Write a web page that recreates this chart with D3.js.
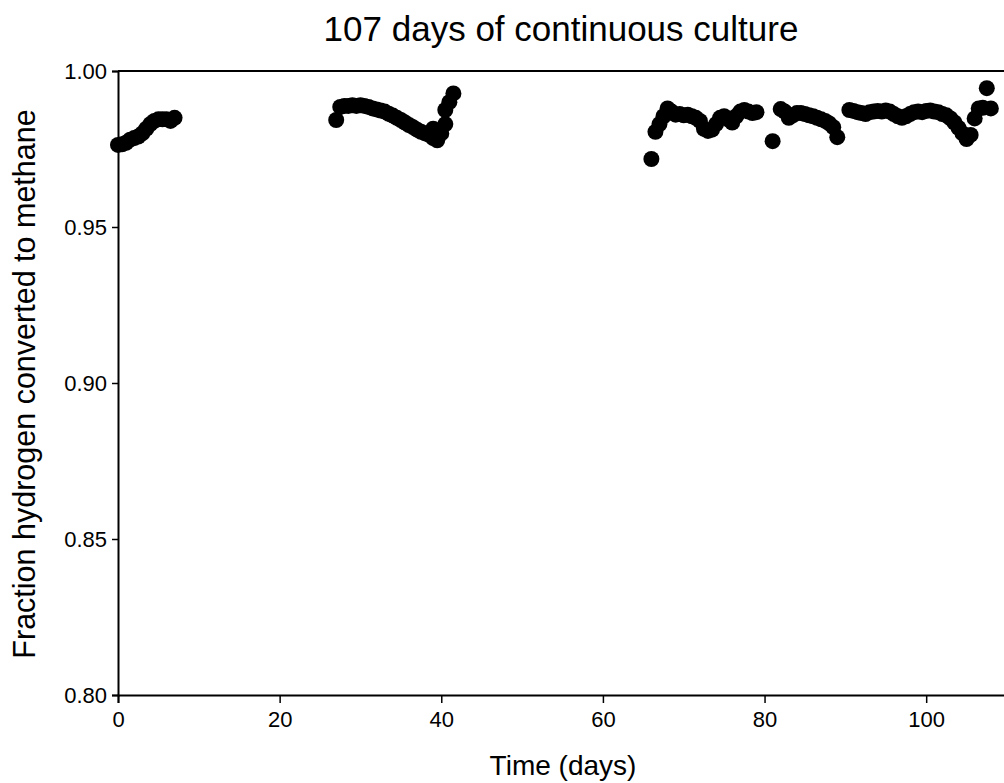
<!DOCTYPE html>
<html><head><meta charset="utf-8">
<script src="https://cdn.jsdelivr.net/npm/d3@7"></script>
<style>body{margin:0;background:#fff}text{font-family:"Liberation Sans",Arial,sans-serif;fill:#000}</style>
</head><body>
<svg id="c" width="1004" height="783"></svg>
<script>
const title = "107 days of continuous culture";
const xLabel = "Time (days)";
const yLabel = "Fraction hydrogen converted to methane";
const xTicks = [0, 20, 40, 60, 80, 100];
const yTicks = [0.80, 0.85, 0.90, 0.95, 1.00];

const days1 = [0,0.5,1,1.5,2,2.5,3,3.5,4,4.5,5,5.5,6,6.5,7];
const vals1 = [0.9763,0.9765,0.977,0.978,0.9785,0.979,0.980,0.9815,0.983,0.984,0.9845,0.9845,0.9845,0.984,0.985];

const days2 = [27,27.5,28,28.5,29,29.5,30,30.5,31,31.5,32,32.5,33,33.5,34,34.5,35,35.5,36,36.5,37,37.5,38,38.5,39,39,39.5,40,40.5,40.5,41,41.5];
const vals2 = [0.9843,0.9885,0.9888,0.9888,0.989,0.9888,0.989,0.9888,0.9885,0.988,0.9877,0.9873,0.987,0.9863,0.9857,0.985,0.9843,0.9835,0.9827,0.982,0.9812,0.9805,0.980,0.9795,0.9785,0.9815,0.9778,0.980,0.983,0.9875,0.990,0.9928];

const days3 = [66,66.5,67,67.5,68,68.5,69,69.5,70,70.5,71,71.5,72,72.5,73,73.5,74,74.5,75,75.5,76,76.5,77,77.5,78,78.5,79,81,82,82.5,83,83.5,84,84.5,85,85.5,86,86.5,87,87.5,88,88.5,89,90.5,91,91.5,92,92.5,93,93.5,94,94.5,95,95.5,96,96.5,97,97.5,98,98.5,99,99.5,100,100.5,101,101.5,102,102.5,103,103.5,104,104.5,105,105.5,106,106.5,107,107.5,108];
const vals3 = [0.9718,0.9805,0.983,0.9855,0.988,0.987,0.986,0.9862,0.9858,0.986,0.9855,0.985,0.984,0.9815,0.9808,0.9812,0.983,0.985,0.9855,0.9845,0.9835,0.9855,0.987,0.9875,0.987,0.9865,0.9868,0.9775,0.9878,0.987,0.985,0.9858,0.9865,0.9865,0.9862,0.9858,0.9855,0.985,0.9845,0.984,0.9832,0.982,0.9788,0.9875,0.9872,0.9868,0.9865,0.9862,0.9868,0.987,0.9872,0.987,0.9873,0.987,0.9862,0.9855,0.985,0.9855,0.9862,0.9868,0.987,0.9868,0.9872,0.9873,0.987,0.9868,0.9862,0.9858,0.9848,0.9835,0.9818,0.98,0.9782,0.9795,0.9848,0.988,0.9882,0.9945,0.988];

const L = 118, R = 1007, T = 71, B = 695;
const x = d3.scaleLinear().domain([0, 110]).range([L, R]);
const y = d3.scaleLinear().domain([0.80, 1.00]).range([B, T]);
const svg = d3.select("#c");

svg.append("line").attr("x1", L).attr("x2", R).attr("y1", T).attr("y2", T).attr("stroke", "#000").attr("stroke-width", 2);

const ya = svg.append("g").attr("transform", `translate(${L},0)`)
  .call(d3.axisLeft(y).tickValues(yTicks).tickFormat(d3.format(".2f")).tickSizeOuter(0).tickSize(6).tickPadding(5));
const xa = svg.append("g").attr("transform", `translate(0,${B})`)
  .call(d3.axisBottom(x).tickValues(xTicks).tickSizeOuter(0).tickSize(8).tickPadding(8));
[ya, xa].forEach(g => {
  g.select(".domain").attr("stroke", "#000").attr("stroke-width", 2);
  g.selectAll(".tick line").attr("stroke", "#000").attr("stroke-width", 1.5);
  g.selectAll("text").style("font-size", "22px").style("font-family", '"Liberation Sans",Arial,sans-serif').attr("fill", "#000");
});

const pts = [];
[[days1, vals1], [days2, vals2], [days3, vals3]].forEach(([ds, vs]) => ds.forEach((d, i) => pts.push([d, vs[i]])));
svg.append("g").selectAll("circle").data(pts).join("circle")
  .attr("cx", d => x(d[0])).attr("cy", d => y(d[1])).attr("r", 8).attr("fill", "#000");

svg.append("text").attr("x", 561).attr("y", 41).attr("text-anchor", "middle").style("font-size", "35px").text(title);
svg.append("text").attr("x", 563).attr("y", 775).attr("text-anchor", "middle").style("font-size", "28px").text(xLabel);
svg.append("text").attr("transform", `translate(35,384) rotate(-90)`).attr("text-anchor", "middle").style("font-size", "30.5px").text(yLabel);
</script>
</body></html>
